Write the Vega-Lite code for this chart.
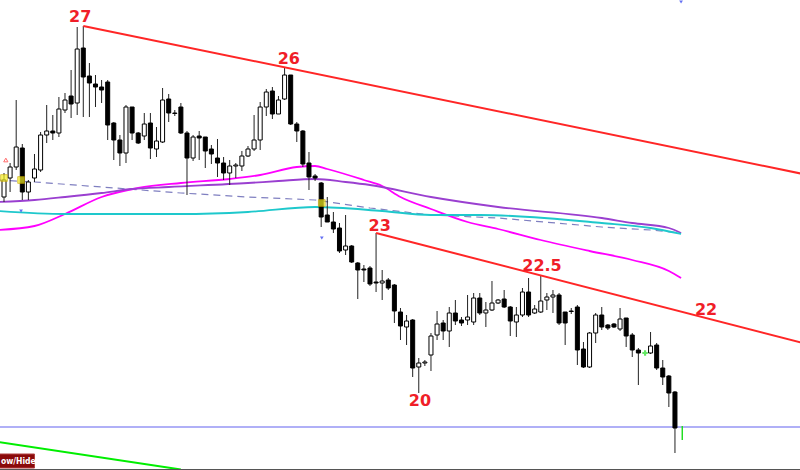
{
  "$schema": "https://vega.github.io/schema/vega-lite/v6.json",
  "width": 800,
  "height": 470,
  "autosize": {"type": "none"},
  "padding": 0,
  "background": "white",
  "config": {"view": {"stroke": null}, "axis": {"disable": true}},
  "datasets": {
    "candles": [
      {"i":0,"o":273,"h":297,"l":268,"c":290},
      {"i":1,"o":292,"h":307,"l":278,"c":303},
      {"i":2,"o":303,"h":370,"l":300,"c":323},
      {"i":3,"o":322,"h":326,"l":270,"c":278},
      {"i":4,"o":278,"h":290,"l":270,"c":288},
      {"i":5,"o":292,"h":316,"l":288,"c":301},
      {"i":6,"o":300,"h":338,"l":298,"c":335},
      {"i":7,"o":335,"h":365,"l":327,"c":339},
      {"i":8,"o":339,"h":355,"l":330,"c":337},
      {"i":9,"o":337,"h":373,"l":333,"c":361},
      {"i":10,"o":360,"h":377,"l":357,"c":370},
      {"i":11,"o":374,"h":400,"l":352,"c":366},
      {"i":12,"o":367,"h":443,"l":355,"c":421},
      {"i":13,"o":422,"h":444,"l":353,"c":393},
      {"i":14,"o":394,"h":407,"l":353,"c":387},
      {"i":15,"o":386,"h":395,"l":363,"c":383},
      {"i":16,"o":383,"h":390,"l":367,"c":380},
      {"i":17,"o":388,"h":390,"l":330,"c":345},
      {"i":18,"o":347,"h":348,"l":310,"c":330},
      {"i":19,"o":330,"h":335,"l":304,"c":317},
      {"i":20,"o":317,"h":365,"l":307,"c":363},
      {"i":21,"o":363,"h":363,"l":330,"c":337},
      {"i":22,"o":337,"h":338,"l":326,"c":327},
      {"i":23,"o":334,"h":357,"l":330,"c":346},
      {"i":24,"o":347,"h":357,"l":311,"c":322},
      {"i":25,"o":321,"h":343,"l":313,"c":329},
      {"i":26,"o":328,"h":382,"l":327,"c":370},
      {"i":27,"o":371,"h":376,"l":348,"c":357},
      {"i":28,"o":357,"h":360,"l":354,"c":356.5},
      {"i":29,"o":363,"h":367,"l":336,"c":337},
      {"i":30,"o":337,"h":339,"l":275,"c":312},
      {"i":31,"o":312,"h":335,"l":309,"c":333},
      {"i":32,"o":334,"h":339,"l":310,"c":332},
      {"i":33,"o":333,"h":333,"l":302,"c":319},
      {"i":34,"o":321,"h":325,"l":306,"c":316},
      {"i":35,"o":312,"h":331,"l":293,"c":307},
      {"i":36,"o":307,"h":313,"l":290,"c":297},
      {"i":37,"o":297,"h":310,"l":285,"c":304},
      {"i":38,"o":304,"h":307,"l":292,"c":305},
      {"i":39,"o":304,"h":319,"l":299,"c":314},
      {"i":40,"o":314,"h":324,"l":313,"c":321},
      {"i":41,"o":321,"h":355,"l":319,"c":330},
      {"i":42,"o":330,"h":368,"l":320,"c":363},
      {"i":43,"o":363,"h":381,"l":354,"c":378},
      {"i":44,"o":379,"h":383,"l":351,"c":356},
      {"i":45,"o":356,"h":374,"l":356,"c":370},
      {"i":46,"o":371,"h":402,"l":370,"c":395},
      {"i":47,"o":395,"h":395,"l":345,"c":346},
      {"i":48,"o":346,"h":348,"l":328,"c":339},
      {"i":49,"o":339,"h":340,"l":303,"c":306},
      {"i":50,"o":307,"h":318,"l":280,"c":293},
      {"i":51,"o":294,"h":296,"l":289,"c":292},
      {"i":52,"o":287,"h":288,"l":243,"c":253},
      {"i":53,"o":255,"h":273,"l":248,"c":248},
      {"i":54,"o":248,"h":258,"l":237,"c":241},
      {"i":55,"o":242,"h":247,"l":217,"c":219},
      {"i":56,"o":220,"h":255,"l":215,"c":224},
      {"i":57,"o":224,"h":225,"l":207,"c":208},
      {"i":58,"o":207,"h":208,"l":171,"c":200},
      {"i":59,"o":201,"h":205,"l":188,"c":200},
      {"i":60,"o":202,"h":204,"l":184,"c":186},
      {"i":61,"o":188,"h":237,"l":178,"c":187},
      {"i":62,"o":187,"h":200,"l":170,"c":189},
      {"i":63,"o":190,"h":192,"l":180,"c":182},
      {"i":64,"o":185,"h":186,"l":147,"c":159},
      {"i":65,"o":158,"h":162,"l":130,"c":144},
      {"i":66,"o":143,"h":155,"l":125,"c":149},
      {"i":67,"o":150,"h":151,"l":93,"c":102},
      {"i":68,"o":103,"h":112,"l":77,"c":107},
      {"i":69,"o":107,"h":110,"l":104,"c":108},
      {"i":70,"o":115,"h":137,"l":99,"c":134},
      {"i":71,"o":135,"h":159,"l":130,"c":146},
      {"i":72,"o":147,"h":150,"l":130,"c":139},
      {"i":73,"o":139,"h":163,"l":123,"c":157},
      {"i":74,"o":157,"h":170,"l":145,"c":149},
      {"i":75,"o":150,"h":153,"l":144,"c":147},
      {"i":76,"o":150,"h":175,"l":145,"c":153},
      {"i":77,"o":148,"h":177,"l":145,"c":172},
      {"i":78,"o":172,"h":177,"l":155,"c":157},
      {"i":79,"o":157,"h":168,"l":143,"c":160},
      {"i":80,"o":160,"h":189,"l":159,"c":167},
      {"i":81,"o":167,"h":171,"l":166,"c":170},
      {"i":82,"o":171,"h":180,"l":162,"c":163},
      {"i":83,"o":163,"h":164,"l":134,"c":149},
      {"i":84,"o":148,"h":163,"l":133,"c":155},
      {"i":85,"o":155,"h":182,"l":153,"c":178},
      {"i":86,"o":178,"h":192,"l":153,"c":155},
      {"i":87,"o":157,"h":165,"l":156,"c":161},
      {"i":88,"o":158,"h":194,"l":157,"c":169},
      {"i":89,"o":170,"h":177,"l":160,"c":173},
      {"i":90,"o":173,"h":180,"l":157,"c":175},
      {"i":91,"o":175,"h":177,"l":145,"c":147},
      {"i":92,"o":158,"h":158,"l":125,"c":147},
      {"i":93,"o":159,"h":162,"l":156,"c":158.5},
      {"i":94,"o":163,"h":165,"l":105,"c":120},
      {"i":95,"o":121,"h":128,"l":102,"c":103},
      {"i":96,"o":103,"h":138,"l":102,"c":137},
      {"i":97,"o":137,"h":157,"l":127,"c":155},
      {"i":98,"o":155,"h":163,"l":140,"c":143},
      {"i":99,"o":145,"h":146,"l":140,"c":142},
      {"i":100,"o":146,"h":147,"l":142,"c":143},
      {"i":101,"o":141,"h":162,"l":139,"c":151},
      {"i":102,"o":152,"h":152,"l":123,"c":134},
      {"i":103,"o":135,"h":137,"l":113,"c":120},
      {"i":104,"o":120,"h":122,"l":85,"c":117},
      {"i":106,"o":117,"h":138,"l":116,"c":124},
      {"i":107,"o":125,"h":127,"l":100,"c":102},
      {"i":108,"o":102,"h":110,"l":85,"c":93},
      {"i":109,"o":94,"h":95,"l":63,"c":77},
      {"i":110,"o":78,"h":79,"l":17,"c":42}
    ],
    "averages": [
      {"s":"fast","i":-1,"v":240},{"s":"fast","i":5,"v":244},{"s":"fast","i":10,"v":256},
      {"s":"fast","i":16,"v":273},{"s":"fast","i":22,"v":282},{"s":"fast","i":29,"v":287},
      {"s":"fast","i":37,"v":291},{"s":"fast","i":42,"v":295},{"s":"fast","i":48,"v":303},
      {"s":"fast","i":51,"v":304},{"s":"fast","i":53,"v":301},{"s":"fast","i":59,"v":290},
      {"s":"fast","i":62,"v":284},{"s":"fast","i":65,"v":273},{"s":"fast","i":70,"v":261},
      {"s":"fast","i":76,"v":248},{"s":"fast","i":81,"v":241},{"s":"fast","i":88,"v":230},
      {"s":"fast","i":96,"v":219},{"s":"fast","i":103,"v":210},{"s":"fast","i":109,"v":199},
      {"s":"fast","i":111,"v":192},
      {"s":"middle","i":-1,"v":268},{"s":"middle","i":5,"v":270},{"s":"middle","i":10,"v":273},
      {"s":"middle","i":16,"v":277},{"s":"middle","i":21,"v":281},{"s":"middle","i":27,"v":283},
      {"s":"middle","i":40,"v":287},{"s":"middle","i":45,"v":289},{"s":"middle","i":51,"v":291},
      {"s":"middle","i":56,"v":288},{"s":"middle","i":60,"v":285},{"s":"middle","i":70,"v":273},
      {"s":"middle","i":81,"v":263},{"s":"middle","i":98,"v":252},{"s":"middle","i":103,"v":247},
      {"s":"middle","i":109,"v":242},{"s":"middle","i":111,"v":237},
      {"s":"slow","i":-1,"v":259},{"s":"slow","i":10,"v":256},{"s":"slow","i":29,"v":256},
      {"s":"slow","i":40,"v":258},{"s":"slow","i":51,"v":263},{"s":"slow","i":62,"v":259},
      {"s":"slow","i":70,"v":255},{"s":"slow","i":78,"v":255},{"s":"slow","i":98,"v":247},
      {"s":"slow","i":106,"v":242},{"s":"slow","i":111,"v":236}
    ],
    "baseline": [
      {"i":-1,"v":290},{"i":5,"v":288},{"i":16,"v":283},{"i":29,"v":277},{"i":40,"v":273},
      {"i":51,"v":270},{"i":60,"v":262},{"i":70,"v":255},{"i":81,"v":252},{"i":98,"v":243},
      {"i":106,"v":240},{"i":111,"v":237}
    ],
    "trendlines": [
      {"t":"upper","i":13,"v":444},{"t":"upper","i":131,"v":296},
      {"t":"lower","i":61,"v":237},{"t":"lower","i":131,"v":127}
    ],
    "labels": [
      {"text":"27","i":12.5,"v":453},
      {"text":"26","i":46.7,"v":411},
      {"text":"23","i":61.6,"v":244},
      {"text":"22.5","i":88.2,"v":204},
      {"text":"22","i":115.1,"v":160},
      {"text":"20","i":68.2,"v":69}
    ]
  },
  "encoding": {
    "x": {"type": "quantitative", "scale": {"domain": [-0.656, 130.5], "nice": false, "zero": false, "padding": 0}, "axis": null},
    "y": {"type": "quantitative", "scale": {"domain": [0, 470], "nice": false, "zero": false, "padding": 0}, "axis": null}
  },
  "layer": [
    {
      "data": {"values": [{"i": -1, "v": 28}, {"i": 29, "v": 0.5}]},
      "mark": {"type": "line", "color": "#00ee00", "strokeWidth": 2, "clip": true},
      "encoding": {"x": {"field": "i"}, "y": {"field": "v"}}
    },
    {
      "data": {"values": [{"v": 43}]},
      "mark": {"type": "rule", "color": "#6262f0", "strokeWidth": 1.2},
      "encoding": {"y": {"field": "v"}}
    },
    {
      "data": {"values": [{"v": 0.5}]},
      "mark": {"type": "rule", "color": "#555555", "strokeWidth": 1},
      "encoding": {"y": {"field": "v"}}
    },
    {
      "data": {"name": "baseline"},
      "mark": {"type": "line", "color": "#7f7fc0", "strokeWidth": 1.2, "strokeDash": [7, 5], "clip": true},
      "encoding": {"x": {"field": "i"}, "y": {"field": "v"}}
    },
    {
      "data": {"name": "averages"},
      "mark": {"type": "line", "strokeWidth": 1.8, "clip": true, "interpolate": "monotone"},
      "encoding": {
        "x": {"field": "i"},
        "y": {"field": "v"},
        "color": {"field": "s", "type": "nominal", "legend": null,
                  "scale": {"domain": ["slow", "middle", "fast"], "range": ["#1ec8cc", "#9a3fd0", "#ff00ff"]}}
      }
    },
    {
      "data": {"name": "candles"},
      "mark": {"type": "rule", "color": "#222222", "strokeWidth": 1},
      "encoding": {"x": {"field": "i"}, "y": {"field": "l"}, "y2": {"field": "h"}}
    },
    {
      "data": {"name": "candles"},
      "mark": {"type": "bar", "size": 4, "stroke": "#000000", "strokeWidth": 1},
      "encoding": {
        "x": {"field": "i"},
        "y": {"field": "o"},
        "y2": {"field": "c"},
        "fill": {"condition": {"test": "datum.c >= datum.o", "value": "#ffffff"}, "value": "#000000"}
      }
    },
    {
      "data": {"name": "trendlines"},
      "mark": {"type": "line", "color": "#ff2626", "strokeWidth": 2, "clip": true},
      "encoding": {"x": {"field": "i"}, "y": {"field": "v"}, "detail": {"field": "t"}}
    },
    {
      "data": {"name": "labels"},
      "mark": {"type": "text", "font": "DejaVu Sans", "fontSize": 16, "fontWeight": "bold", "color": "#f01e28", "align": "center", "baseline": "middle"},
      "encoding": {"x": {"field": "i"}, "y": {"field": "v"}, "text": {"field": "text"}}
    },
    {
      "data": {"values": [{"i": 0, "v": 292}, {"i": 2.8, "v": 290}, {"i": 52.1, "v": 267}]},
      "mark": {"type": "square", "size": 45, "filled": true, "color": "#f4f020", "stroke": "#d0b000", "strokeWidth": 1},
      "encoding": {"x": {"field": "i"}, "y": {"field": "v"}}
    },
    {
      "data": {"values": [{"i": 0.3, "v": 310}]},
      "mark": {"type": "point", "shape": "triangle-up", "size": 18, "color": "#ff3030", "strokeWidth": 1},
      "encoding": {"x": {"field": "i"}, "y": {"field": "v"}}
    },
    {
      "data": {"values": [{"i": 2.8, "v": 259}, {"i": 52.1, "v": 232}, {"i": 111, "v": 468}]},
      "mark": {"type": "point", "shape": "triangle-down", "size": 14, "filled": true, "color": "#2233ee"},
      "encoding": {"x": {"field": "i"}, "y": {"field": "v"}}
    },
    {
      "data": {"values": [{"i": 105.1, "v": 117}]},
      "mark": {"type": "point", "shape": "cross", "size": 30, "filled": true, "color": "#22dd22"},
      "encoding": {"x": {"field": "i"}, "y": {"field": "v"}}
    },
    {
      "data": {"values": [{"i": 111.2, "lo": 30, "hi": 44}]},
      "mark": {"type": "rule", "color": "#22dd22", "strokeWidth": 1.5},
      "encoding": {"x": {"field": "i"}, "y": {"field": "lo"}, "y2": {"field": "hi"}}
    },
    {
      "data": {"values": [{"i": -1, "i2": 5.0, "lo": 2, "hi": 16}]},
      "mark": {"type": "rect", "color": "#8a0a0a", "stroke": "#b04040", "strokeWidth": 1, "clip": true},
      "encoding": {"x": {"field": "i"}, "x2": {"field": "i2"}, "y": {"field": "lo"}, "y2": {"field": "hi"}}
    },
    {
      "data": {"values": [{"i": -0.5, "v": 9, "text": "ow/Hide"}]},
      "mark": {"type": "text", "font": "DejaVu Sans Condensed", "fontSize": 8.5, "fontWeight": "bold", "color": "#ffffff", "align": "left", "baseline": "middle"},
      "encoding": {"x": {"field": "i"}, "y": {"field": "v"}, "text": {"field": "text"}}
    }
  ]
}
